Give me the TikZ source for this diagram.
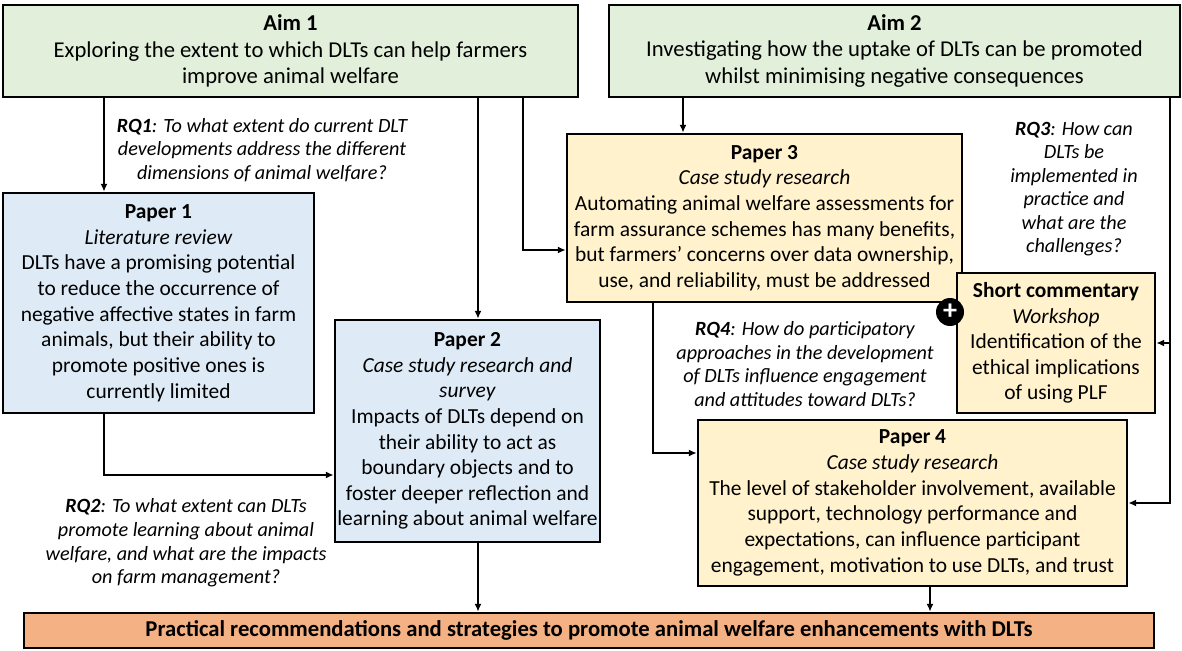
\documentclass[tikz,border=0pt]{standalone}
\usepackage{fontspec}
\setmainfont{Carlito}
\usetikzlibrary{arrows.meta}
\definecolor{aimgreen}{RGB}{226,239,218}
\definecolor{paperblue}{RGB}{222,235,247}
\definecolor{paperyellow}{RGB}{255,242,204}
\definecolor{outcomeorange}{RGB}{244,177,131}

\begin{document}
\begin{tikzpicture}[x = 0.02cm, y = -0.02cm,
    every node/.style = {font = \fontsize{12.2}{14.6}\selectfont, align = center, inner sep = 0pt},
    box/.style 2 args = {draw, line width = 1.5pt, minimum width = #1, minimum height = #2},
    big/.style = {font = \fontsize{12.9}{15}\selectfont},
    rq/.style = {font = \fontsize{11.5}{13.4}\selectfont\itshape},
    conn/.style = {line width = 1.1pt, -{Latex[length = 4.5pt, width = 4pt]}}]
    \useasboundingbox (0,0) rectangle (1182,651);

    \node[box = {11.5cm}{1.84cm}, big, fill = aimgreen] (aim1) at (290.5,51)
        {\textbf{Aim 1}\\Exploring the extent to which DLTs can help farmers\\improve animal welfare};
    \node[box = {11.42cm}{1.84cm}, big, fill = aimgreen] (aim2) at (894.5,51)
        {\textbf{Aim 2}\\Investigating how the uptake of DLTs can be promoted\\whilst minimising negative consequences};
    \node[box = {6.22cm}{4.4cm}, fill = paperblue] (paper1) at (158.5,303)
        {\textbf{Paper 1}\\\textit{Literature review}\\DLTs have a promising potential\\to reduce the occurrence of\\negative affective states in farm\\animals, but their ability to\\promote positive ones is\\currently limited};
    \node[box = {5.3cm}{4.44cm}, fill = paperblue] (paper2) at (467.5,431)
        {\textbf{Paper 2}\\\textit{Case study research and}\\\textit{survey}\\Impacts of DLTs depend on\\their ability to act as\\boundary objects and to\\foster deeper reflection and\\learning about animal welfare};
    \node[box = {7.9cm}{3.36cm}, fill = paperyellow] (paper3) at (764.5,218)
        {\textbf{Paper 3}\\\textit{Case study research}\\Automating animal welfare assessments for\\farm assurance schemes has many benefits,\\but farmers' concerns over data ownership,\\use, and reliability, must be addressed};
    \node[box = {3.96cm}{2.8cm}, fill = paperyellow] (short) at (1056,343)
        {\textbf{Short commentary}\\\textit{Workshop}\\Identification of the\\ethical implications\\of using PLF};
    \node[box = {8.58cm}{3.32cm}, fill = paperyellow] (paper4) at (912.5,503)
        {\textbf{Paper 4}\\\textit{Case study research}\\The level of stakeholder involvement, available\\support, technology performance and\\expectations, can influence participant\\engagement, motivation to use DLTs, and trust};
    \node[box = {22.6cm}{0.7cm}, big, fill = outcomeorange] (final) at (589,630.5)
        {\textbf{Practical recommendations and strategies to promote animal welfare enhancements with DLTs}};
    \node[circle, fill = black, text = white, minimum size = 0.56cm] (plus) at (950,312)
        {\fontsize{16}{16}\selectfont\textbf{+}};

    \node[rq] (rq1) at (262,150) {\textbf{RQ1}: To what extent do current DLT\\developments address the different\\dimensions of animal welfare?};
    \node[rq] (rq2) at (186,543) {\textbf{RQ2}: To what extent can DLTs\\promote learning about animal\\welfare, and what are the impacts\\on farm management?};
    \node[rq] (rq3) at (1074,189) {\textbf{RQ3}: How can\\DLTs be\\implemented in\\practice and\\what are the\\challenges?};
    \node[rq] (rq4) at (805,364) {\textbf{RQ4}: How do participatory\\approaches in the development\\of DLTs influence engagement\\and attitudes toward DLTs?};

    \coordinate (p1drop) at (104,475);
    \coordinate (midline) at (478,0);
    \coordinate (a1turn) at (523,250);
    \coordinate (a2drop) at (683,0);
    \coordinate (p3drop) at (653,453);
    \coordinate (a2rail) at (1170,0);
    \coordinate (p4drop) at (930,0);

    \draw[conn] (aim1.south -| p1drop) -- (paper1.north -| p1drop);
    \draw[conn] (aim1.south -| midline) -- (paper2.north -| midline);
    \draw[conn] (aim1.south -| a1turn) |- (paper3.west |- a1turn);
    \draw[conn] (aim2.south -| a2drop) -- (paper3.north -| a2drop);
    \draw[conn] (aim2.south -| a2rail) |- (short.east);
    \draw[conn] (short.east -| a2rail) |- (paper4.east);
    \draw[conn] (paper1.south -| p1drop) |- (paper2.west |- p1drop);
    \draw[conn] (paper3.south -| p3drop) |- (paper4.west |- p3drop);
    \draw[conn] (paper2.south -| midline) -- (final.north -| midline);
    \draw[conn] (paper4.south -| p4drop) -- (final.north -| p4drop);
\end{tikzpicture}
\end{document}
